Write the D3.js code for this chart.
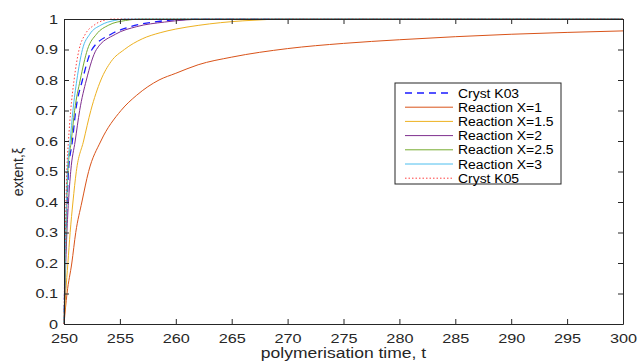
<!DOCTYPE html>
<html>
<head>
<meta charset="utf-8">
<script src="https://cdn.jsdelivr.net/npm/d3@7"></script>
<style>
  body { margin: 0; background: #fff; }
  svg { display: block; font-family: "Liberation Sans", Arial, sans-serif; }
</style>
</head>
<body>
<svg id="chart" width="638" height="363"></svg>
<script>
// values: time t and extent xi for each curve
var crystK03 = [[250,0],[250.05,0.1],[250.1,0.2],[250.18,0.3],[250.28,0.4],[250.4,0.5],[250.75,0.6],[251.05,0.7],[251.65,0.8],[252.5,0.9],[254.2,0.95],[255.5,0.97],[258,0.99],[262,1],[300,1]];
var reactX1 = [[250,0],[250.27,0.1],[250.7,0.2],[251.05,0.3],[251.6,0.4],[252.2,0.5],[253.3,0.6],[255.1,0.7],[256.5,0.75],[258.5,0.8],[260,0.822],[262,0.85],[265,0.875],[270,0.903],[275,0.92],[280,0.932],[285,0.942],[290,0.95],[295,0.956],[300,0.961]];
var reactX15 = [[250,0],[250.15,0.1],[250.35,0.2],[250.55,0.3],[250.8,0.4],[251.1,0.5],[251.75,0.6],[252.4,0.7],[253.3,0.8],[254.2,0.86],[255.4,0.9],[257,0.935],[258.6,0.955],[260,0.967],[262,0.979],[264,0.988],[266,0.994],[268,0.998],[269,1],[300,1]];
var reactX2 = [[250,0],[250.08,0.1],[250.16,0.2],[250.26,0.3],[250.4,0.4],[250.6,0.5],[251.0,0.6],[251.4,0.7],[252.0,0.8],[252.9,0.9],[254.6,0.95],[256.5,0.975],[259,0.99],[263,1],[300,1]];
var reactX25 = [[250,0],[250.06,0.1],[250.12,0.2],[250.18,0.3],[250.25,0.4],[250.35,0.5],[250.65,0.6],[250.95,0.7],[251.45,0.8],[252.1,0.9],[252.9,0.95],[254,0.98],[255.5,0.995],[257,1],[300,1]];
var reactX3 = [[250,0],[250.05,0.1],[250.1,0.2],[250.15,0.3],[250.22,0.4],[250.3,0.5],[250.55,0.6],[250.8,0.7],[251.15,0.8],[251.65,0.9],[252.3,0.95],[253.3,0.98],[254.5,0.995],[255.5,1],[300,1]];
var crystK05 = [[250,0],[250.03,0.1],[250.07,0.2],[250.12,0.3],[250.18,0.4],[250.25,0.5],[250.4,0.6],[250.6,0.7],[250.9,0.8],[251.35,0.9],[251.9,0.95],[252.7,0.98],[253.5,0.995],[254.5,1],[300,1]];

var seriesNames = ["Cryst K03", "Reaction X=1", "Reaction X=1.5", "Reaction X=2", "Reaction X=2.5", "Reaction X=3", "Cryst K05"];
var seriesData = [crystK03, reactX1, reactX15, reactX2, reactX25, reactX3, crystK05];
var colors = ["#1a1aff", "#d95319", "#edb120", "#7e2f8e", "#77ac30", "#4dbeee", "#ff4040"];
var dashes = ["7,5", null, null, null, null, null, "1.5,2"];
var widths = [1.3, 1, 1, 1, 1, 1, 1];

var xTicks = [250, 255, 260, 265, 270, 275, 280, 285, 290, 295, 300];
var yTicks = [0, 0.1, 0.2, 0.3, 0.4, 0.5, 0.6, 0.7, 0.8, 0.9, 1];

var margin = {left: 64, right: 15, top: 19, bottom: 39};
var width = 638 - margin.left - margin.right;
var height = 363 - margin.top - margin.bottom;
var axisColor = "#262626";

// the picture is a bit wider than tall, so texts look stretched sideways
function stretch(sel, k) {
  sel.each(function() {
    var w = this.getComputedTextLength();
    d3.select(this).attr("textLength", w * k).attr("lengthAdjust", "spacingAndGlyphs");
  });
}

var svg = d3.select("#chart");
var g = svg.append("g").attr("transform", "translate(" + margin.left + "," + margin.top + ")");

var x = d3.scaleLinear().domain([250, 300]).range([0, width]);
var y = d3.scaleLinear().domain([0, 1]).range([height, 0]);

// curves
var line = d3.line()
  .x(function(d) { return x(d[0]); })
  .y(function(d) { return y(d[1]); })
  .curve(d3.curveMonotoneX);

seriesData.forEach(function(s, i) {
  g.append("path")
    .datum(s)
    .attr("d", line)
    .attr("fill", "none")
    .attr("stroke", colors[i])
    .attr("stroke-width", widths[i])
    .attr("stroke-dasharray", dashes[i]);
});

// axes, MATLAB style box with inward ticks
var xAxis = g.append("g").attr("transform", "translate(0," + height + ")")
  .call(d3.axisBottom(x).tickValues(xTicks).tickSizeInner(-5).tickSizeOuter(0).tickPadding(10));
var xTop = g.append("g")
  .call(d3.axisTop(x).tickValues(xTicks).tickSizeInner(-5).tickSizeOuter(0).tickFormat(""));
var yAxis = g.append("g")
  .call(d3.axisLeft(y).tickValues(yTicks).tickSizeInner(-5).tickSizeOuter(0).tickPadding(6).tickFormat(d3.format("")));
var yRight = g.append("g").attr("transform", "translate(" + width + ",0)")
  .call(d3.axisRight(y).tickValues(yTicks).tickSizeInner(-5).tickSizeOuter(0).tickFormat(""));

[xAxis, xTop, yAxis, yRight].forEach(function(a) {
  a.select(".domain").attr("stroke", axisColor).attr("stroke-width", 1);
  a.selectAll(".tick line").attr("stroke", axisColor);
  a.selectAll(".tick text").attr("fill", axisColor).style("font-size", "13px");
});
stretch(xAxis.selectAll(".tick text"), 1.25);
stretch(yAxis.selectAll(".tick text"), 1.25);

// axis labels
var xLabel = svg.append("text")
  .attr("x", margin.left + width / 2)
  .attr("y", 358)
  .attr("text-anchor", "middle")
  .attr("fill", axisColor)
  .style("font-size", "14px")
  .text("polymerisation time, t");
stretch(xLabel, 1.25);

svg.append("text")
  .attr("transform", "translate(23,172) rotate(-90)")
  .attr("text-anchor", "middle")
  .attr("fill", axisColor)
  .style("font-size", "14px")
  .text("extent,ξ");

// legend
var legend = svg.append("g").attr("transform", "translate(395,83)");
legend.append("rect")
  .attr("width", 166).attr("height", 101)
  .attr("fill", "#fff").attr("stroke", axisColor).attr("stroke-width", 1);

seriesNames.forEach(function(name, i) {
  var yy = 10 + i * 14.2;
  legend.append("line")
    .attr("x1", 10).attr("x2", 58)
    .attr("y1", yy).attr("y2", yy)
    .attr("stroke", colors[i])
    .attr("stroke-width", widths[i])
    .attr("stroke-dasharray", dashes[i]);
  var t = legend.append("text")
    .attr("x", 63).attr("y", yy + 4.5)
    .attr("fill", "#000")
    .style("font-size", "12px")
    .text(name);
  stretch(t, 1.16);
});
</script>
</body>
</html>
